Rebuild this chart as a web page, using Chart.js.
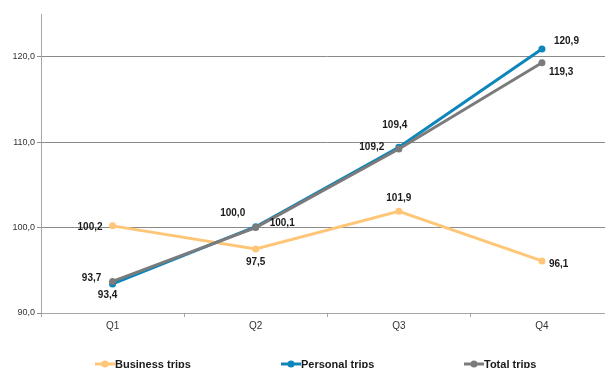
<!DOCTYPE html>
<html>
<head>
<meta charset="utf-8">
<script src="https://cdn.jsdelivr.net/npm/chart.js@4"></script>
<style>
  html, body { margin:0; padding:0; background:#fff; overflow:hidden; }
  #wrap { width:617px; height:368px; }
</style>
</head>
<body>
<div id="wrap"><canvas id="chart" width="617" height="368"></canvas></div>
<script>
const quarters = ["Q1","Q2","Q3","Q4"];

const businessTrips = [100.2, 97.5, 101.9, 96.1];
const personalTrips = [93.4, 100.1, 109.4, 120.9];
const totalTrips = [93.7, 100.0, 109.2, 119.3];

const yTicks = [90, 100, 110, 120];

// where each value label sits relative to its point: [dx, dy, align]
const labelPos = [
    [[-10, 1, "right"], [0, 13, "center"], [0, -13, "center"], [7, 3, "left"]],
    [[-5, 11, "center"], [14, -3, "left"], [-4, -22, "center"], [12, -8, "left"]],
    [[-21, -3, "center"], [-23, -14, "center"], [-27, -2, "center"], [7, 10, "left"]]
];

const fmt = v => v.toFixed(1).replace(".", ",");

const valueLabels = {
    id: "valueLabels",
    afterDatasetsDraw(chart) {
        const ctx = chart.ctx;
        ctx.save();
        ctx.font = "bold 10px 'Liberation Sans', Arial, sans-serif";
        ctx.fillStyle = "#1a1a1a";
        ctx.textBaseline = "middle";
        chart.data.datasets.forEach((ds, i) => {
            chart.getDatasetMeta(i).data.forEach((pt, j) => {
                const p = labelPos[i][j];
                ctx.textAlign = p[2];
                ctx.fillText(fmt(ds.data[j]), pt.x + p[0], pt.y + p[1]);
            });
        });
        ctx.restore();
    }
};

// legend drawn by hand so items land where the reference has them
const legendX = [95, 281, 464];
const customLegend = {
    id: "customLegend",
    afterDraw(chart) {
        const ctx = chart.ctx;
        const y = 364;
        ctx.save();
        chart.data.datasets.forEach((ds, i) => {
            const x = legendX[i];
            ctx.strokeStyle = ds.borderColor;
            ctx.lineWidth = 3;
            ctx.beginPath();
            ctx.moveTo(x, y);
            ctx.lineTo(x + 20, y);
            ctx.stroke();
            ctx.fillStyle = ds.borderColor;
            ctx.beginPath();
            ctx.arc(x + 10, y, 3.5, 0, Math.PI * 2);
            ctx.fill();
            ctx.fillStyle = "#1a1a1a";
            ctx.font = "bold 11px 'Liberation Sans', Arial, sans-serif";
            ctx.textAlign = "left";
            ctx.textBaseline = "middle";
            ctx.fillText(ds.label, x + 20, y + 1);
        });
        ctx.restore();
    }
};

new Chart(document.getElementById("chart"), {
    type: "line",
    data: {
        labels: quarters,
        datasets: [
            {
                label: "Business trips",
                data: businessTrips,
                borderColor: "#ffc677",
                backgroundColor: "#ffc677",
                order: 3
            },
            {
                label: "Personal trips",
                data: personalTrips,
                borderColor: "#0e86bb",
                backgroundColor: "#0e86bb",
                order: 2
            },
            {
                label: "Total trips",
                data: totalTrips,
                borderColor: "#7b7b7b",
                backgroundColor: "#7b7b7b",
                order: 1
            }
        ]
    },
    options: {
        responsive: false,
        animation: false,
        layout: { padding: { top: 14, left: 0, right: 0, bottom: 0 } },
        elements: {
            line: { borderWidth: 3, tension: 0 },
            point: { radius: 3.5, borderWidth: 0, hoverRadius: 3.5 }
        },
        plugins: {
            legend: { display: false },
            tooltip: { enabled: false }
        },
        scales: {
            x: {
                offset: true,
                grid: {
                    offset: true,
                    drawOnChartArea: false,
                    tickLength: 4,
                    color: "#a6a6a6"
                },
                border: { color: "#a6a6a6", width: 1 },
                ticks: {
                    color: "#333",
                    padding: 3,
                    font: { family: "'Liberation Sans', Arial, sans-serif", size: 10 }
                },
                afterFit(scale) { scale.height = 55; }
            },
            y: {
                min: 90,
                max: 125,
                afterBuildTicks(scale) {
                    scale.ticks = yTicks.map(v => ({ value: v }));
                },
                grid: {
                    color: "#8a8a8a",
                    tickLength: 4,
                    lineWidth: 1
                },
                border: { color: "#a6a6a6", width: 1 },
                ticks: {
                    color: "#333",
                    padding: 2,
                    font: { family: "'Liberation Sans', Arial, sans-serif", size: 9 },
                    callback: v => fmt(v)
                },
                afterFit(scale) { scale.width = 41; }
            }
        }
    },
    plugins: [valueLabels, customLegend]
});
</script>
</body>
</html>
